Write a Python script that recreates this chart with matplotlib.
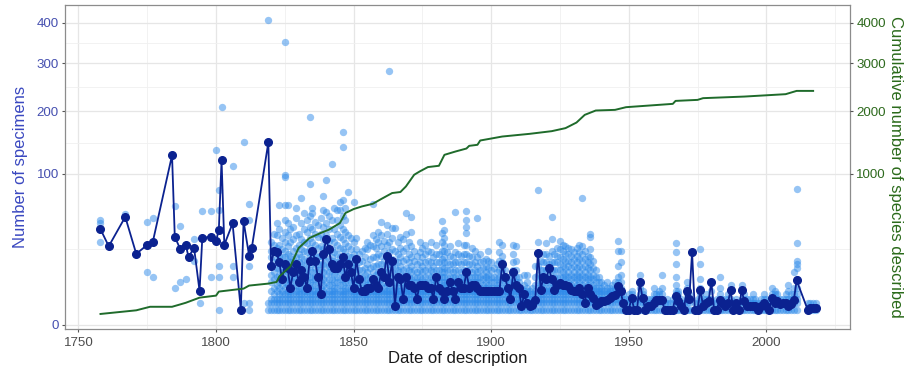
import numpy as np
import matplotlib
matplotlib.use("Agg")
import matplotlib.pyplot as plt

plt.rcParams["font.family"] = ["Liberation Sans", "DejaVu Sans"]

# specimens per described species, grouped by year of description
specimens_early = {
    1758: [30, 45, 48], 1761: [27], 1767: [51, 54], 1771: [22],
    1775: [12, 28, 46], 1777: [10, 30, 50], 1784: [126], 1785: [6, 34, 62],
    1787: [8, 25, 43], 1789: [9, 28], 1790: [20], 1792: [18, 26, 32],
    1794: [2, 5], 1795: [33, 57], 1798: [10, 34, 57], 1800: [31, 134],
    1801: [1, 10, 15, 39, 58, 80], 1802: [119, 208], 1803: [28],
    1806: [10, 15, 45, 110], 1809: [1], 1810: [2, 47, 147],
    1812: [1, 2, 15, 21, 48, 64], 1813: [26], 1819: [1, 2, 146, 408],
}

specimens_1820_1849 = {
    1820: [1, 2, 3, 5, 8, 11, 15, 20, 24, 30],
    1821: [1, 2, 3, 4, 6, 9, 12, 17, 24, 28, 36],
    1822: [1, 2, 3, 5, 7, 10, 14, 19, 23, 26, 35, 45],
    1823: [1, 2, 3, 4, 6, 8, 11, 14, 17, 21, 28, 40, 63],
    1824: [1, 2, 3, 4, 5, 7, 9, 12, 16, 20, 25, 33],
    1825: [1, 2, 3, 4, 6, 8, 10, 13, 16, 20, 24, 30, 38, 48, 63, 96, 99, 350],
    1826: [1, 2, 3, 4, 5, 7, 9, 12, 14, 18, 22, 27, 35, 45, 63],
    1827: [1, 2, 3, 4, 5, 6, 8, 10, 13, 17, 21, 30, 40],
    1828: [1, 2, 3, 4, 6, 8, 10, 12, 15, 19, 24, 32, 42],
    1829: [1, 2, 3, 4, 5, 7, 9, 12, 16, 20, 26, 35, 50, 60],
    1830: [1, 2, 3, 4, 5, 6, 8, 10, 13, 17, 22, 28, 36],
    1831: [1, 2, 3, 4, 6, 8, 10, 13, 16, 20, 25, 32, 45, 70],
    1832: [1, 2, 3, 4, 5, 7, 9, 12, 15, 19, 24, 30, 40, 55],
    1833: [1, 2, 3, 4, 5, 6, 8, 11, 14, 18, 23, 29, 38, 48],
    1834: [1, 2, 3, 4, 6, 8, 10, 13, 17, 21, 26, 33, 42, 52, 87, 189],
    1835: [1, 2, 3, 4, 5, 7, 9, 12, 16, 20, 24, 30, 40, 55, 60],
    1836: [1, 2, 3, 4, 5, 7, 9, 11, 14, 18, 22, 28, 36, 46],
    1837: [1, 2, 3, 4, 5, 6, 8, 10, 13, 16, 20, 26, 34, 44],
    1838: [1, 2, 3, 4, 6, 8, 10, 13, 16, 21, 27, 36, 50],
    1839: [1, 2, 3, 4, 5, 7, 9, 12, 16, 20, 25, 32, 42, 58, 73],
    1840: [1, 2, 3, 4, 6, 8, 11, 14, 18, 23, 28, 35, 45, 56, 92],
    1841: [1, 2, 3, 4, 5, 7, 9, 12, 15, 19, 24, 31, 40, 52],
    1842: [1, 2, 3, 4, 5, 7, 9, 12, 16, 20, 25, 33, 48, 114],
    1843: [1, 2, 3, 4, 5, 6, 8, 11, 14, 18, 23, 30, 40, 60],
    1844: [1, 2, 3, 4, 6, 8, 10, 13, 17, 22, 28, 36, 48, 58],
    1845: [1, 2, 3, 4, 5, 7, 9, 12, 15, 20, 26, 34, 44, 58, 66],
    1846: [1, 2, 3, 4, 5, 7, 9, 12, 16, 20, 25, 32, 40, 52, 68, 139, 163],
    1847: [1, 2, 3, 4, 5, 6, 8, 11, 14, 18, 23, 29, 38, 48, 60],
    1848: [1, 2, 3, 4, 6, 8, 10, 13, 17, 21, 27, 35, 77],
    1849: [1, 2, 3, 4, 5, 6, 8, 10, 13, 16, 20, 25, 33],
}

specimens_1850_1899 = {
    1850: [1, 2, 3, 4, 5, 6, 8, 10, 13, 17, 22, 30, 66],
    1851: [1, 2, 3, 4, 5, 7, 9, 12, 15, 19, 25, 33],
    1852: [1, 2, 3, 4, 5, 6, 8, 10, 13, 17, 22],
    1853: [1, 2, 3, 4, 5, 6, 8, 10, 13, 18, 24],
    1854: [1, 2, 3, 4, 5, 6, 8, 11, 14, 20, 26],
    1855: [1, 2, 3, 4, 5, 7, 9, 12, 16, 25, 30],
    1856: [1, 2, 3, 4, 5, 6, 8, 10, 14, 19, 28],
    1857: [1, 2, 3, 4, 5, 7, 9, 12, 15, 20, 27, 35, 64],
    1858: [1, 2, 3, 4, 5, 6, 8, 11, 15, 20, 26, 32],
    1859: [1, 2, 3, 4, 5, 7, 9, 12, 16, 22, 30, 38],
    1860: [1, 2, 3, 4, 5, 7, 9, 12, 16, 21, 27, 35, 46],
    1861: [1, 2, 3, 4, 5, 6, 8, 11, 14, 18, 24, 31],
    1862: [1, 2, 3, 4, 5, 7, 9, 12, 16, 21, 28, 36, 44],
    1863: [1, 2, 3, 4, 5, 6, 8, 10, 13, 17, 23, 30, 283],
    1864: [1, 2, 3, 4, 5, 7, 9, 12, 15, 19, 25, 33, 41],
    1865: [1, 2, 3, 4, 5, 6, 8, 11, 14, 18, 24, 41],
    1866: [1, 2, 3, 4, 5, 6, 8, 10, 13, 17, 22, 30],
    1867: [1, 2, 3, 4, 5, 7, 9, 12, 15, 20, 26, 34],
    1868: [1, 2, 3, 4, 5, 6, 8, 10, 13, 18, 24, 32],
    1869: [1, 2, 3, 4, 5, 6, 8, 11, 14, 19, 26, 36, 55],
    1870: [1, 2, 3, 4, 5, 6, 8, 10, 13, 17, 22, 30],
    1871: [1, 2, 3, 4, 5, 7, 9, 12, 15, 20, 27, 38, 51],
    1872: [1, 2, 3, 4, 5, 6, 8, 10, 13, 18, 24],
    1873: [1, 2, 3, 4, 5, 6, 8, 10, 12, 16, 21],
    1874: [1, 2, 3, 4, 5, 6, 8, 10, 13, 17, 23, 30],
    1875: [1, 2, 3, 4, 5, 7, 9, 12, 15, 20, 26],
    1876: [1, 2, 3, 4, 5, 6, 8, 10, 13, 17, 22, 28],
    1877: [1, 2, 3, 4, 5, 6, 8, 11, 14, 18, 24],
    1878: [1, 2, 3, 4, 5, 6, 8, 10, 13, 17, 23, 30],
    1879: [1, 2, 3, 4, 5, 6, 7, 9, 12, 15, 20],
    1880: [1, 2, 3, 4, 5, 6, 8, 10, 13, 17, 22, 28],
    1881: [1, 2, 3, 4, 5, 6, 8, 10, 13, 17, 22],
    1882: [1, 2, 3, 4, 5, 6, 8, 10, 12, 15, 19, 24, 30, 37, 47],
    1883: [1, 2, 3, 4, 5, 6, 7, 8, 10, 12, 14, 17, 20, 24, 28, 33, 39],
    1884: [1, 2, 3, 4, 5, 6, 8, 10, 13, 17, 23],
    1885: [1, 2, 3, 4, 5, 6, 8, 10, 13, 16, 21, 27],
    1886: [1, 2, 3, 4, 5, 6, 8, 10, 12, 16, 20],
    1887: [1, 2, 3, 4, 5, 6, 8, 10, 13, 17, 23, 56],
    1888: [1, 2, 3, 4, 5, 6, 8, 10, 13, 17, 22, 29],
    1889: [1, 2, 3, 4, 5, 6, 8, 10, 12, 16, 21],
    1890: [1, 2, 3, 4, 5, 6, 8, 10, 13, 17, 22, 28],
    1891: [1, 2, 3, 4, 5, 6, 8, 10, 13, 17, 22, 28, 37, 42, 48, 57],
    1892: [1, 2, 3, 4, 5, 6, 8, 10, 13, 16, 21],
    1893: [1, 2, 3, 4, 5, 6, 8, 10, 12, 16, 20, 26],
    1894: [1, 2, 3, 4, 5, 6, 8, 10, 13, 17, 24],
    1895: [1, 2, 3, 4, 5, 6, 8, 10, 12, 15, 20, 50],
    1896: [1, 2, 3, 4, 5, 6, 8, 10, 13, 17, 22],
    1897: [1, 2, 3, 4, 5, 6, 7, 9, 11, 14, 18],
    1898: [1, 2, 3, 4, 5, 6, 8, 10, 12, 15, 19],
    1899: [1, 2, 3, 4, 5, 6, 7, 9, 11, 14, 18, 24],
}

specimens_1900_1945 = {
    1900: [1, 2, 3, 4, 5, 6, 8, 10, 13, 17],
    1901: [1, 2, 3, 4, 5, 6, 8, 10, 14],
    1902: [1, 2, 3, 4, 5, 6, 7, 9, 12, 16],
    1903: [1, 2, 3, 4, 5, 6, 8, 10, 13, 18, 23, 30],
    1904: [1, 2, 3, 4, 5, 6, 8, 10, 13, 17, 21, 28],
    1905: [1, 2, 3, 4, 5, 6, 8, 10, 13],
    1906: [1, 2, 3, 4, 5, 6, 8, 10],
    1907: [1, 2, 3, 4, 5, 6, 8],
    1908: [1, 2, 3, 4, 5, 6, 8, 10, 13, 17, 22, 28],
    1909: [1, 2, 3, 4, 5, 6, 8, 10, 13, 18, 27],
    1910: [1, 2, 3, 4, 5, 6, 8, 10],
    1911: [1, 2, 3, 4, 5, 6],
    1912: [1, 2, 3, 4, 5, 7, 11],
    1913: [1, 2, 3, 4, 5, 6, 8, 11],
    1914: [1, 2, 3, 4, 5],
    1915: [1, 2, 3, 4, 6],
    1916: [1, 2, 3, 4, 5, 7, 10, 15],
    1917: [1, 2, 3, 4, 6, 8, 11, 15, 22, 30, 80],
    1918: [1, 2, 3, 4, 5, 6, 8, 10, 13, 18],
    1919: [1, 2, 3, 4, 5, 6, 8, 10, 13, 17, 22],
    1920: [1, 2, 3, 4, 5, 6, 8, 10, 13, 17, 22, 29],
    1921: [1, 2, 3, 4, 5, 6, 8, 10, 13, 16, 21],
    1922: [1, 2, 3, 4, 5, 6, 8, 10, 13, 17, 24, 32, 51],
    1923: [1, 2, 3, 4, 5, 6, 8, 10, 13, 17, 22],
    1924: [1, 2, 3, 4, 5, 6, 8, 10, 13, 17, 21, 26],
    1925: [1, 2, 3, 4, 5, 6, 8, 10, 13, 16, 20, 25, 31],
    1926: [1, 2, 3, 4, 5, 6, 8, 10, 12, 15, 19, 24, 28],
    1927: [1, 2, 3, 4, 5, 6, 7, 9, 11, 14, 18, 22, 27],
    1928: [1, 2, 3, 4, 5, 6, 8, 10, 12, 15, 18, 22, 26],
    1929: [1, 2, 3, 4, 5, 6, 7, 9, 11, 14, 17, 21, 25],
    1930: [1, 2, 3, 4, 5, 6, 8, 10, 12, 15, 19, 23],
    1931: [1, 2, 3, 4, 5, 6, 7, 9, 11, 14, 17, 21, 26],
    1932: [1, 2, 3, 4, 5, 6, 8, 10, 12, 15, 19, 23, 28],
    1933: [1, 2, 3, 4, 5, 6, 7, 9, 11, 14, 18, 22, 27, 70],
    1934: [1, 2, 3, 4, 5, 6, 8, 10, 12, 15, 19, 24],
    1935: [1, 2, 3, 4, 5, 6, 7, 9, 11, 14, 17, 21],
    1936: [1, 2, 3, 4, 5, 6, 8, 10, 13, 16, 20, 25, 34, 36],
    1937: [1, 2, 3, 4, 5, 6, 7, 9, 11, 14, 18],
    1938: [1, 2, 3, 4, 5, 6, 8, 10, 13],
    1939: [1, 2, 3, 4, 5, 6, 8, 10],
    1940: [1, 2, 3, 4, 5, 6, 8],
    1941: [1, 2, 3, 4, 5, 7],
    1942: [1, 2, 3, 4, 5, 6, 8],
    1943: [1, 2, 3, 4, 5, 6],
    1944: [1, 2, 3, 4, 5, 7],
    1945: [1, 2, 3, 4, 5, 6, 8],
}

specimens_late = {
    1946: [1, 2, 3, 4, 5, 6, 8, 10, 15, 24, 31], 1947: [1, 2, 3, 4, 5, 6, 8, 11, 17, 24],
    1948: [1, 2, 3, 4], 1949: [1, 2, 3], 1950: [1, 2, 3, 4], 1951: [1, 2, 3, 4, 5],
    1952: [1, 2], 1953: [1, 2, 3], 1954: [1, 2, 3, 4, 6, 8, 11], 1955: [1, 2, 3, 4, 5],
    1956: [1, 2], 1957: [1, 2, 3], 1958: [1, 2, 3], 1959: [1, 2, 3, 4, 6],
    1960: [1, 2, 3, 4], 1961: [1, 2, 3, 4, 5], 1962: [1, 2, 3, 4, 6, 11], 1963: [1, 2],
    1964: [1, 2, 3], 1965: [1, 2], 1966: [1, 2, 3],
    1967: [1, 2, 3, 4, 5, 7, 10, 16, 23, 29], 1968: [1, 2, 3, 4, 5], 1969: [1, 2, 3],
    1970: [1, 2], 1971: [1, 2, 3, 4, 6, 8], 1972: [1, 2, 3, 4], 1973: [1, 23],
    1974: [1, 2], 1975: [1, 2, 3], 1976: [1, 2, 3, 4, 6, 9, 16, 25], 1977: [1, 2, 3],
    1978: [1, 2, 3, 4], 1979: [1, 2, 3], 1980: [1, 2, 3, 5, 8], 1981: [1, 2],
    1982: [1, 2, 3], 1983: [1, 2, 3, 4, 6, 10], 1984: [1, 2, 3], 1985: [1, 2, 3],
    1986: [1, 2, 3, 4], 1987: [1, 2, 3, 5, 7], 1988: [1, 2], 1989: [1, 2, 3],
    1990: [1, 2], 1991: [1, 2, 3, 5, 7], 1992: [1, 2, 3, 4], 1993: [1, 2, 3],
    1994: [1, 2, 3], 1995: [1, 2, 3, 4], 1996: [1, 2, 3], 1997: [1, 2],
    1998: [1, 2, 3], 1999: [1, 2, 3, 4], 2000: [1, 2, 3], 2001: [1, 2],
    2002: [1, 2, 3, 4, 6], 2003: [1, 2, 3, 4, 5], 2004: [1, 2, 3, 4], 2005: [1, 2, 3],
    2006: [1, 2, 3], 2007: [1, 2, 3, 4], 2008: [1, 2, 3, 5, 7], 2009: [1, 2, 3, 4],
    2010: [1, 2, 3, 4, 6, 12], 2011: [1, 2, 3, 4, 6, 9, 14, 16, 18, 29, 81],
    2015: [1, 2], 2016: [1, 2], 2017: [1, 2], 2018: [1, 2],
}

# median number of specimens per year
median_years = [1758, 1761, 1767, 1771, 1775, 1777, 1784, 1785, 1787, 1789, 1790, 1792,
                1794, 1795, 1798, 1800, 1801, 1802, 1803, 1806, 1809, 1810, 1812, 1813,
                1819] + list(range(1820, 2012)) + [2015, 2016, 2017, 2018]
median_vals = [40, 27, 51, 22, 28, 30, 126, 34, 25, 28, 20, 26,
               5, 33, 34, 31, 39, 119, 28, 45, 1, 47, 21, 26,
               146,
               # 1820-1849
               15, 24, 23, 17, 9, 16, 14, 6, 12, 16, 8, 13, 10, 6, 18, 24, 18, 10, 4, 22,
               32, 25, 16, 14, 14, 16, 20, 10, 16, 12,
               # 1850-1899
               6, 19, 9, 5, 5, 6, 6, 9, 7, 6, 12, 10, 21, 8, 18, 1.5, 10, 9, 3, 10,
               7, 7, 6, 3, 7, 7, 7, 6, 6, 3, 10, 6, 5, 3, 5, 8, 5, 3, 8, 6,
               6, 12, 6, 7, 7, 6, 5, 5, 5, 5,
               # 1900-1949
               5, 5, 5, 5, 16, 10, 6, 3, 12, 7, 6, 1.5, 4, 2, 1.5, 1.75, 2.7, 22.5, 5.4, 10,
               9, 14, 9, 5.4, 7, 7.6, 7, 7, 6.4, 5.4, 5, 4.9, 5.9, 4, 2, 5.9, 4, 3.1, 1.75, 2,
               2.4, 2.4, 2.7, 3.1, 3.5, 3.9, 6.4, 4.9, 2, 1,
               # 1950-1999
               1, 3.1, 1, 1, 8, 3.1, 1, 1.5, 1.5, 2, 2.7, 2.7, 2.7, 1, 1, 1, 1, 3.5, 2.4, 1.5,
               1, 4.9, 3, 23, 1, 1, 5.4, 1.5, 2, 2.5, 8, 1, 1, 2.7, 2, 1.5, 2, 5.2, 1, 2,
               1, 5.2, 2.4, 1.5, 1.5, 1.5, 1.5, 1, 1.5, 2,
               # 2000-2011
               1.5, 1, 3.1, 2, 2.4, 1.8, 2, 2, 1.5, 1.8, 2.7, 8.6,
               1, 1.2, 1.2, 1.2]

# cumulative number of species described
cum_years = [1758, 1771, 1776, 1784, 1787, 1789, 1794, 1800, 1801, 1810, 1812, 1819,
             1822, 1823, 1827, 1830, 1834, 1838, 1841, 1845, 1847, 1850, 1853, 1857,
             1860, 1864, 1867, 1869, 1872, 1874, 1877, 1881, 1883, 1887, 1891, 1892,
             1895, 1896, 1900, 1904, 1914, 1922, 1927, 1931, 1934, 1938, 1945, 1949,
             1966, 1967, 1975, 1977, 1992, 2007, 2011, 2017]
cum_counts = [5, 9, 14, 14, 18, 21, 32, 37, 48, 57, 67, 74,
              80, 102, 149, 258, 330, 369, 396, 453, 547, 587, 614, 642,
              693, 761, 773, 839, 987, 1031, 1091, 1109, 1267, 1317, 1363, 1405,
              1421, 1490, 1522, 1555, 1600, 1645, 1697, 1795, 1934, 2015, 2027, 2078,
              2142, 2200, 2220, 2254, 2286, 2334, 2401, 2401]


def sqrt_fwd(v):
    return np.sign(v) * np.sqrt(np.abs(v))


def sqrt_inv(v):
    return np.sign(v) * v ** 2


pt_years, pt_vals = [], []
for group in [specimens_early, specimens_1820_1849, specimens_1850_1899,
              specimens_1900_1945, specimens_late]:
    for yr, vals in group.items():
        pt_years += [yr] * len(vals)
        pt_vals += vals

fig = plt.figure(figsize=(9.1, 3.76), dpi=100)
ax = fig.add_axes([65 / 910, 1 - 329 / 376, 785 / 910, 324 / 376])
ax.set_yscale("function", functions=(sqrt_fwd, sqrt_inv))

ax.scatter(pt_years, pt_vals, s=28, color="#2F8BEA", alpha=0.5, linewidths=0, zorder=2)
ax.plot(median_years, median_vals, color="#0B2290", lw=1.3, marker="o", ms=5.5,
        zorder=3)

ax.set_xlim(1745.1, 2030.4)
ax.set_ylim(-0.084, 449)
ax.set_xticks([1750, 1800, 1850, 1900, 1950, 2000])
ax.set_xticks([1775, 1825, 1875, 1925, 1975, 2025], minor=True)
ybreaks = [0, 100, 200, 300, 400]
ax.set_yticks(ybreaks)
ax.set_yticks([((np.sqrt(a) + np.sqrt(b)) / 2) ** 2 for a, b in zip(ybreaks[:-1], ybreaks[1:])],
              minor=True)
ax.grid(which="major", color="#E6E6E6", lw=0.9)
ax.grid(which="minor", color="#F0F0F0", lw=0.6)
ax.set_axisbelow(True)
for s in ax.spines.values():
    s.set_color("#8C8C8C")
    s.set_linewidth(0.9)

ax.tick_params(which="major", length=2.5, width=0.8, color="#555555")
ax.tick_params(which="minor", length=0)
ax.tick_params(axis="x", labelsize=9.6, labelcolor="#4D4D4D", pad=3)
ax.tick_params(axis="y", labelsize=9.6, labelcolor="#4650B0", pad=2)
ax.set_xlabel("Date of description", fontsize=12, color="#1A1A1A", labelpad=2)
ax.set_ylabel("Number of specimens", fontsize=12, color="#3A48C0", labelpad=6)

ax2 = ax.twinx()
ax2.set_yscale("function", functions=(sqrt_fwd, sqrt_inv))
ax2.plot(cum_years, cum_counts, color="#1F6B2B", lw=1.4, zorder=4)
ax2.set_ylim(-0.84, 4490)
ax2.set_yticks([1000, 2000, 3000, 4000])
ax2.tick_params(axis="y", length=2.5, width=0.8, color="#555555", labelsize=9.6,
                labelcolor="#2E6A1E", pad=2)
ax2.tick_params(which="minor", length=0)
for s in ax2.spines.values():
    s.set_visible(False)
ax2.set_ylabel("Cumulative number of species described", fontsize=12, color="#2A6A1A",
               rotation=270, labelpad=12)

fig.savefig("out.png", dpi=100)
